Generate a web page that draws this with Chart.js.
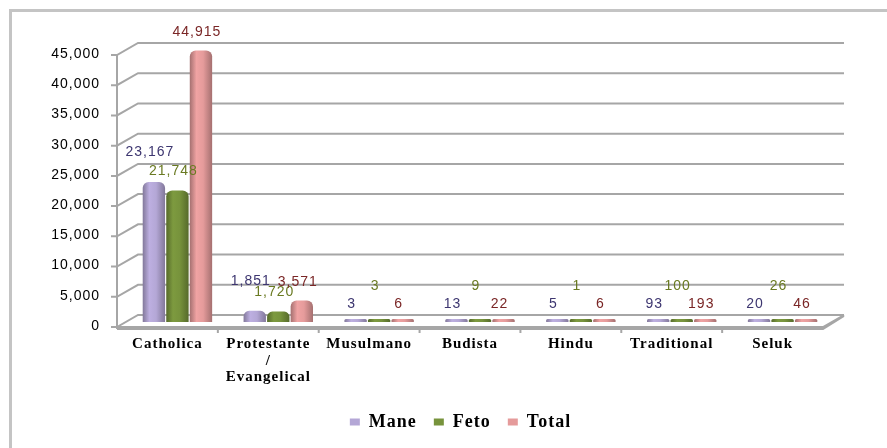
<!DOCTYPE html>
<html><head><meta charset="utf-8">
<script src="https://cdn.jsdelivr.net/npm/chart.js@4.4.1/dist/chart.umd.min.js"></script>
<style>html,body{margin:0;padding:0;background:#fff;} canvas{display:block}</style>
</head><body>
<canvas id="c" width="887" height="448"></canvas>
<script>
// ---- data ----
const categories = ["Catholica", ["Protestante", "/", "Evangelical"], "Musulmano", "Budista", "Hindu", "Traditional", "Seluk"];
const seriesNames = ["Mane", "Feto", "Total"];
const maneValues = [23167, 1851, 3, 13, 5, 93, 20];
const fetoValues = [21748, 1720, 3, 9, 1, 100, 26];
const totalValues = [44915, 3571, 6, 22, 6, 193, 46];
const yTickValues = [0, 5000, 10000, 15000, 20000, 25000, 30000, 35000, 40000, 45000];

// ---- styles ----
const barRGB = [[180, 167, 214], [119, 147, 60], [229, 155, 155]];
const labelColors = ['#3d3670', '#6a7a22', '#7a2626'];
const labelLift = [30, 19, 18];        // label lift above taller bars
const labelLiftFlat = [15, 33, 15];    // label lift above near-zero bars
const BACK = {dx: 11, dy: -7};
const FRONT = {dx: -10, dy: 5};
const GRID = '#a6a6a6';
const LEGEND_SHIFT = 44;
const fmt = v => Number(v).toLocaleString('en-US');
const rgb = (c, k) => 'rgb(' + c.map(x => Math.max(0, Math.min(255, Math.round(x * k)))).join(',') + ')';

const spacingPlugin = {
  id: 'spacing',
  beforeUpdate(chart) { chart.ctx.letterSpacing = '1px'; },
  afterLayout(chart) {
    const lg = chart.legend;
    if (lg) { lg.left += LEGEND_SHIFT; lg.right += LEGEND_SHIFT; }
  },
  beforeDraw(chart) {
    const ctx = chart.ctx;
    ctx.letterSpacing = '1px';
    ctx.save();
    ctx.strokeStyle = '#c4c4c4';
    ctx.lineWidth = 3;
    ctx.beginPath();
    ctx.moveTo(10.5, 448); ctx.lineTo(10.5, 10.5); ctx.lineTo(887, 10.5);
    ctx.stroke();
    ctx.restore();
  }
};

const wallPlugin = {
  id: 'wall3d',
  beforeDatasetsDraw(chart) {
    const ctx = chart.ctx, y = chart.scales.y;
    const {left, right} = chart.chartArea;
    ctx.save();
    ctx.strokeStyle = GRID;
    ctx.lineWidth = 2;
    yTickValues.forEach(v => {
      const py = y.getPixelForValue(v);
      ctx.beginPath();
      ctx.moveTo(left + FRONT.dx - 6, py + FRONT.dy);
      ctx.lineTo(left + FRONT.dx, py + FRONT.dy);
      ctx.lineTo(left + BACK.dx, py + BACK.dy);
      ctx.lineTo(right + BACK.dx, py + BACK.dy);
      ctx.stroke();
    });
    const y0 = y.getPixelForValue(0), yTop = y.getPixelForValue(yTickValues[yTickValues.length - 1]);
    ctx.beginPath();
    ctx.moveTo(left + FRONT.dx, yTop + FRONT.dy);
    ctx.lineTo(left + FRONT.dx, y0 + FRONT.dy + 2);
    ctx.stroke();
    // floor slab
    ctx.beginPath();
    ctx.moveTo(left + FRONT.dx, y0 + FRONT.dy);
    ctx.lineTo(right + FRONT.dx, y0 + FRONT.dy);
    ctx.lineTo(right + BACK.dx, y0 + BACK.dy);
    ctx.moveTo(left + FRONT.dx, y0 + FRONT.dy + 2);
    ctx.lineTo(right + FRONT.dx, y0 + FRONT.dy + 2);
    ctx.lineTo(right + BACK.dx, y0 + BACK.dy + 1);
    ctx.stroke();
    const n = categories.length;
    const step = (right - left) / n;
    for (let i = 1; i < n; i++) {
      const px = left + i * step + FRONT.dx;
      ctx.beginPath();
      ctx.moveTo(px, y0 + FRONT.dy + 2);
      ctx.lineTo(px, y0 + FRONT.dy + 6);
      ctx.stroke();
    }
    ctx.restore();
    chart.data.datasets.forEach((ds, di) => {
      const meta = chart.getDatasetMeta(di);
      meta.data.forEach(el => {
        const w = el.width || 20;
        const g = ctx.createLinearGradient(el.x - w / 2, 0, el.x + w / 2, 0);
        const c = barRGB[di];
        g.addColorStop(0, rgb(c, 0.72));
        g.addColorStop(0.3, rgb(c, 1.05));
        g.addColorStop(0.6, rgb(c, 1.0));
        g.addColorStop(1, rgb(c, 0.72));
        el.options = Object.assign({}, el.options, {backgroundColor: g});
      });
    });
  },
  afterDatasetsDraw(chart) {
    const ctx = chart.ctx;
    ctx.save();
    ctx.font = '14px "Liberation Sans", Arial, sans-serif';
    ctx.textAlign = 'center';
    ctx.textBaseline = 'middle';
    chart.data.datasets.forEach((ds, di) => {
      const meta = chart.getDatasetMeta(di);
      ctx.fillStyle = labelColors[di];
      meta.data.forEach((el, i) => {
        const flat = (el.base - el.y) < 6;
        const lift = flat ? labelLiftFlat[di] : labelLift[di];
        ctx.fillText(fmt(ds.data[i]), el.x - 4, el.y - lift);
      });
    });
    ctx.restore();
  }
};

const mk = (label, data, i) => ({
  label, data,
  backgroundColor: rgb(barRGB[i], 1),
  borderWidth: 0,
  borderRadius: {topLeft: 6, topRight: 6, bottomLeft: 0, bottomRight: 0},
  borderSkipped: 'bottom',
  minBarLength: 3,
  barPercentage: 0.95,
  categoryPercentage: 0.7
});

new Chart(document.getElementById('c'), {
  type: 'bar',
  data: {
    labels: categories,
    datasets: [mk(seriesNames[0], maneValues, 0), mk(seriesNames[1], fetoValues, 1), mk(seriesNames[2], totalValues, 2)]
  },
  plugins: [spacingPlugin, wallPlugin],
  options: {
    responsive: false,
    animation: false,
    layout: {padding: {left: 0, right: 54, top: 50, bottom: 7}},
    plugins: {
      tooltip: {enabled: false},
      legend: {
        position: 'bottom',
        labels: {
          boxWidth: 10, boxHeight: 7, padding: 17, color: '#000',
          font: {family: '"Liberation Serif", "Times New Roman", serif', size: 18, weight: 'bold'},
          generateLabels(chart) {
            return chart.data.datasets.map((ds, i) => ({
              text: ds.label, fillStyle: rgb(barRGB[i], 1), strokeStyle: rgb(barRGB[i], 1),
              lineWidth: 0, datasetIndex: i, hidden: false
            }));
          }
        }
      }
    },
    scales: {
      x: {
        grid: {display: false, drawTicks: false},
        border: {display: false},
        ticks: {
          padding: 14, labelOffset: -10, color: '#000', maxRotation: 0, autoSkip: false,
          font: {family: '"Liberation Serif", "Times New Roman", serif', size: 15, weight: 'bold', lineHeight: 1.1}
        },
        afterFit(s) { s.height = 74; }
      },
      y: {
        min: 0, max: 45000,
        afterBuildTicks(s) { s.ticks = yTickValues.map(v => ({value: v})); },
        grid: {display: false, drawTicks: false},
        border: {display: false},
        ticks: {
          padding: 27, labelOffset: 4, color: '#000',
          font: {family: '"Liberation Sans", Arial, sans-serif', size: 14},
          callback: v => fmt(v)
        },
        afterFit(s) { s.width = 127; }
      }
    }
  }
});
</script>
</body></html>
